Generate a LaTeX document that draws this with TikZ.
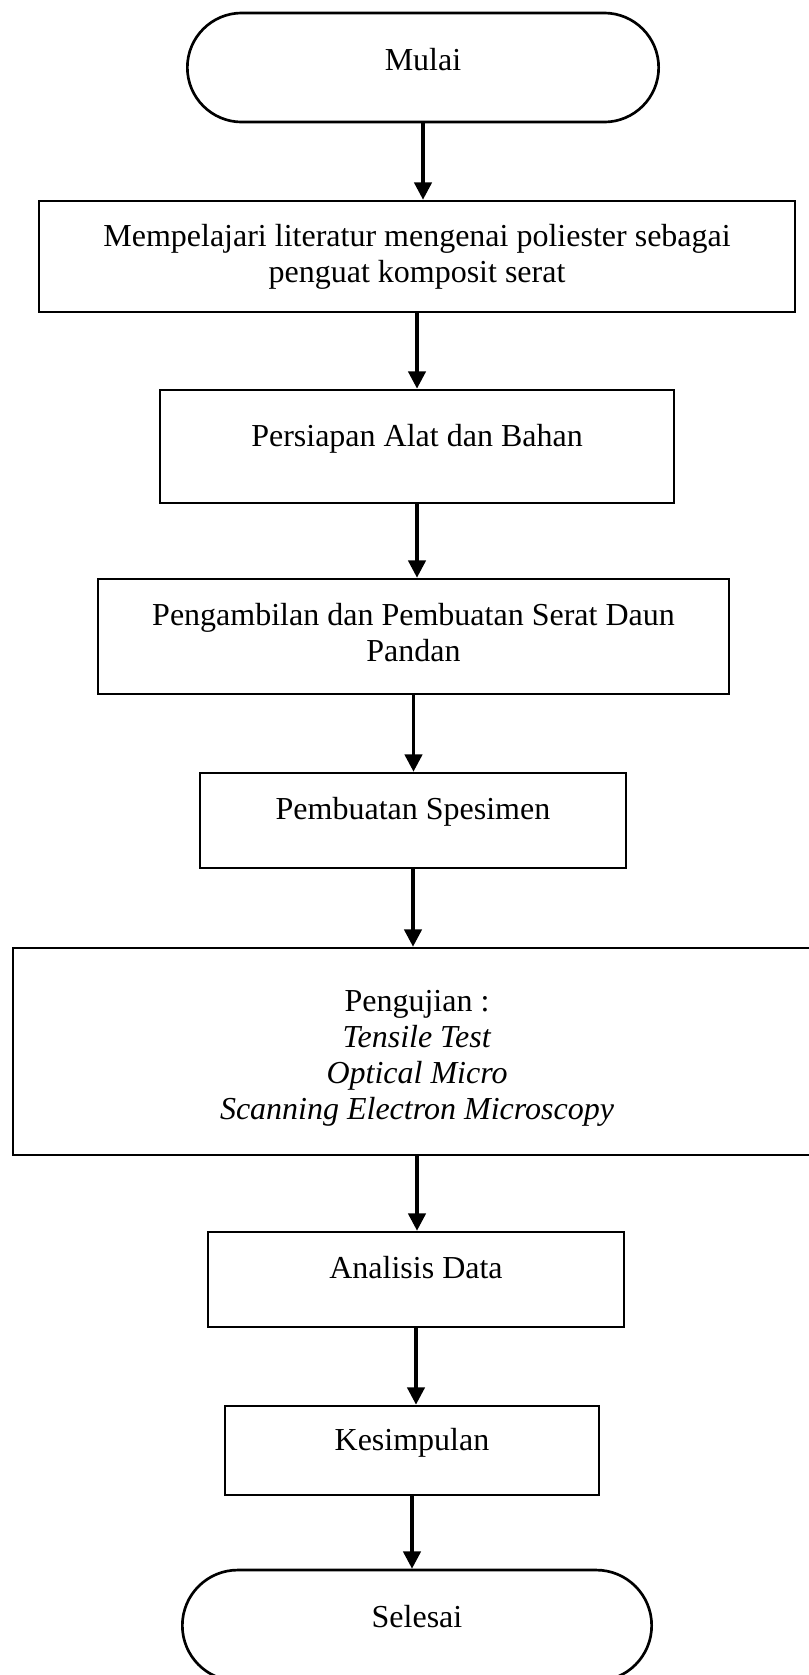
\documentclass[tikz,border=0pt]{standalone}
\usepackage{fontspec}
\setmainfont{Liberation Serif}
\usetikzlibrary{arrows.meta,positioning,shapes.misc}
\tikzset{
    proc/.style={rectangle, draw, line width=1pt, align=center, inner sep=2pt, font=\fontsize{12}{13.5}\selectfont},
    term/.style={rounded rectangle, draw, line width=1pt, inner sep=2pt, font=\fontsize{12}{13.5}\selectfont},
    lift/.style={text height=8pt, text depth=#1},
    flow/.style={-{Triangle[length=6.5pt,width=6.5pt]}, line width=1.3pt}
}

\begin{document}
\begin{tikzpicture}[x=0.375pt,y=-0.375pt]
\useasboundingbox (0,0) rectangle (809,1675);
\node[term, lift=6pt, minimum width=180.75pt, minimum height=40.9pt] (mulai) at (423,67.5) {Mulai};
\node[proc, minimum width=283.5pt, minimum height=41.6pt] (lit) at (417,256.5)
    {Mempelajari literatur mengenai poliester sebagai\\penguat komposit serat};
\node[proc, lift=8pt, minimum width=192.75pt, minimum height=42.4pt] (siap) at (417,446.5) {Persiapan Alat dan Bahan};
\node[proc, text depth=3pt, minimum width=236.6pt, minimum height=43.1pt] (ambil) at (413.5,636.5)
    {Pengambilan dan Pembuatan Serat Daun\\Pandan};
\node[proc, lift=9pt, minimum width=159.75pt, minimum height=35.6pt] (spes) at (413,820.5) {Pembuatan Spesimen};
\node[proc, text height=50.7pt, text depth=0pt, minimum width=303pt, minimum height=77.6pt] (uji) at (417,1051.5)
    {Pengujian :\\\textit{Tensile Test}\\\textit{Optical Micro}\\\textit{Scanning Electron Microscopy}};
\node[proc, lift=9pt, minimum width=156pt, minimum height=35.6pt] (analisis) at (416,1279.5) {Analisis Data};
\node[proc, lift=8pt, minimum width=140.25pt, minimum height=33.4pt] (simpul) at (412,1450.5) {Kesimpulan};
\node[term, lift=6.5pt, minimum width=180pt, minimum height=41.6pt] (selesai) at (417,1625.5) {Selesai};

% alur
\draw[flow] (mulai.south) -- (mulai.south |- lit.north);
\draw[flow] (lit.south) -- (lit.south |- siap.north);
\draw[flow] (siap.south) -- (siap.south |- ambil.north);
\draw[flow] (ambil.south) -- (ambil.south |- spes.north);
\draw[flow] (spes.south) -- (spes.south |- uji.north);
\draw[flow] (uji.south) -- (uji.south |- analisis.north);
\draw[flow] (analisis.south) -- (analisis.south |- simpul.north);
\draw[flow] (simpul.south) -- (simpul.south |- selesai.north);
\end{tikzpicture}
\end{document}
